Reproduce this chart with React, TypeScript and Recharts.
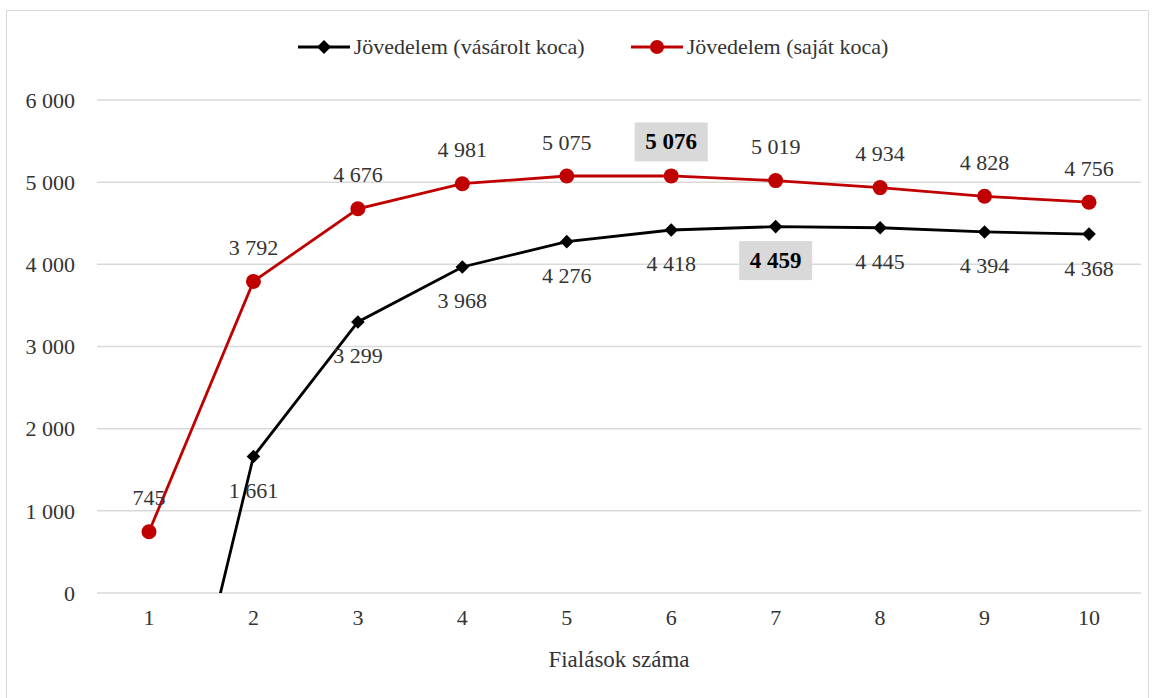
import React from "react";
import { LineChart, Line, XAxis, YAxis, CartesianGrid, LabelList } from "recharts";

// Number of farrowings
const farrowings = ["1", "2", "3", "4", "5", "6", "7", "8", "9", "10"];
// Income, purchased sow
const incomePurchased = [-3600, 1661, 3299, 3968, 4276, 4418, 4459, 4445, 4394, 4368];
// Income, own-bred sow
const incomeOwn = [745, 3792, 4676, 4981, 5075, 5076, 5019, 4934, 4828, 4756];
const yTicks = [0, 1000, 2000, 3000, 4000, 5000, 6000];

const purchasedLabel = "Jövedelem (vásárolt koca)";
const ownLabel = "Jövedelem (saját koca)";

const data = farrowings.map((f, i) => ({
  f,
  purchased: incomePurchased[i],
  own: incomeOwn[i],
}));

const FONT = "'Liberation Serif', 'Times New Roman', serif";
const RED = "#c00000";
const BLACK = "#000000";
const TEXT = "#333333";

const fmt = (v: number) =>
  Math.round(v)
    .toString()
    .replace(/\B(?=(\d{3})+(?!\d))/g, " ");

// index of the maximum of each series gets a highlighted label
const maxIndex = (arr: number[]) => arr.indexOf(Math.max(...arr));
const ownMax = maxIndex(incomeOwn);
const purchasedMax = maxIndex(incomePurchased);

const Diamond = (props: any) => {
  const { cx, cy } = props;
  if (cx == null || cy == null) return null;
  const s = 6.8;
  return (
    <polygon
      points={`${cx},${cy - s} ${cx + s},${cy} ${cx},${cy + s} ${cx - s},${cy}`}
      fill={BLACK}
    />
  );
};

const Circle = (props: any) => {
  const { cx, cy } = props;
  if (cx == null || cy == null) return null;
  return <circle cx={cx} cy={cy} r={7.5} fill={RED} />;
};

const makeLabel = (dir: number, highlight: number) => (props: any) => {
  const { x, y, value, index } = props;
  if (value == null || value < 0) return null;
  const ly = y + dir * 34;
  const txt = fmt(value);
  if (index === highlight) {
    return (
      <g>
        <rect x={x - 36.5} y={ly - 19.5} width={73} height={39} fill="#d9d9d9" />
        <text
          x={x}
          y={ly}
          textAnchor="middle"
          dominantBaseline="central"
          fontFamily={FONT}
          fontSize={23}
          fontWeight="bold"
          fill="#000"
        >
          {txt}
        </text>
      </g>
    );
  }
  return (
    <text
      x={x}
      y={ly}
      textAnchor="middle"
      dominantBaseline="central"
      fontFamily={FONT}
      fontSize={22}
      fill={TEXT}
    >
      {txt}
    </text>
  );
};

const LegendItem = ({
  color,
  label,
  marker,
  gap,
}: {
  color: string;
  label: string;
  marker: "d" | "c";
  gap: number;
}) => (
  <div style={{ display: "flex", alignItems: "center", marginRight: gap }}>
    <svg width={52} height={20} style={{ marginRight: 4 }}>
      <line x1={0} y1={10} x2={52} y2={10} stroke={color} strokeWidth={3} />
      {marker === "d" ? (
        <polygon points="26,3 33,10 26,17 19,10" fill={color} />
      ) : (
        <circle cx={26} cy={10} r={7} fill={color} />
      )}
    </svg>
    <span style={{ fontFamily: FONT, fontSize: 22, color: TEXT, whiteSpace: "nowrap" }}>{label}</span>
  </div>
);

export default function App() {
  return (
    <div
      style={{
        position: "absolute",
        left: 0,
        top: 0,
        width: 1157,
        height: 698,
        background: "#fff",
        overflow: "hidden",
      }}
    >
      <div
        style={{
          position: "absolute",
          left: 6,
          top: 10,
          width: 1143,
          height: 720,
          border: "1.5px solid #d9d9d9",
          boxSizing: "border-box",
        }}
      />
      <div
        style={{
          position: "absolute",
          left: 0,
          width: 1186,
          top: 34,
          display: "flex",
          justifyContent: "center",
          alignItems: "center",
        }}
      >
        <LegendItem color={BLACK} label={purchasedLabel} marker="d" gap={46} />
        <LegendItem color={RED} label={ownLabel} marker="c" gap={0} />
      </div>
      <div style={{ position: "absolute", left: 0, top: 0 }}>
        <LineChart
          width={1157}
          height={698}
          data={data}
          margin={{ top: 100, right: 16, bottom: 25, left: 0 }}
        >
          <CartesianGrid vertical={false} stroke="#d9d9d9" strokeWidth={1.5} />
          <XAxis
            dataKey="f"
            axisLine={false}
            tickLine={false}
            tickSize={0}
            tickMargin={16}
            height={80}
            padding={{ left: 52, right: 52 }}
            tick={{ fontFamily: FONT, fontSize: 22, fill: TEXT }}
            label={{
              value: "Fialások száma",
              position: "insideBottom",
              offset: 6,
              style: { fontFamily: FONT, fontSize: 23, fill: TEXT },
            }}
          />
          <YAxis
            domain={[0, 6000]}
            ticks={yTicks}
            allowDataOverflow
            width={97}
            axisLine={false}
            tickLine={false}
            tickSize={0}
            tickMargin={22}
            tickFormatter={fmt}
            tick={{ fontFamily: FONT, fontSize: 22, fill: TEXT }}
          />
          <Line
            type="linear"
            dataKey="purchased"
            name={purchasedLabel}
            stroke={BLACK}
            strokeWidth={2.8}
            dot={<Diamond />}
            isAnimationActive={false}
          >
            <LabelList dataKey="purchased" content={makeLabel(1, purchasedMax)} />
          </Line>
          <Line
            type="linear"
            dataKey="own"
            name={ownLabel}
            stroke={RED}
            strokeWidth={2.8}
            dot={<Circle />}
            isAnimationActive={false}
          >
            <LabelList dataKey="own" content={makeLabel(-1, ownMax)} />
          </Line>
        </LineChart>
      </div>
    </div>
  );
}
